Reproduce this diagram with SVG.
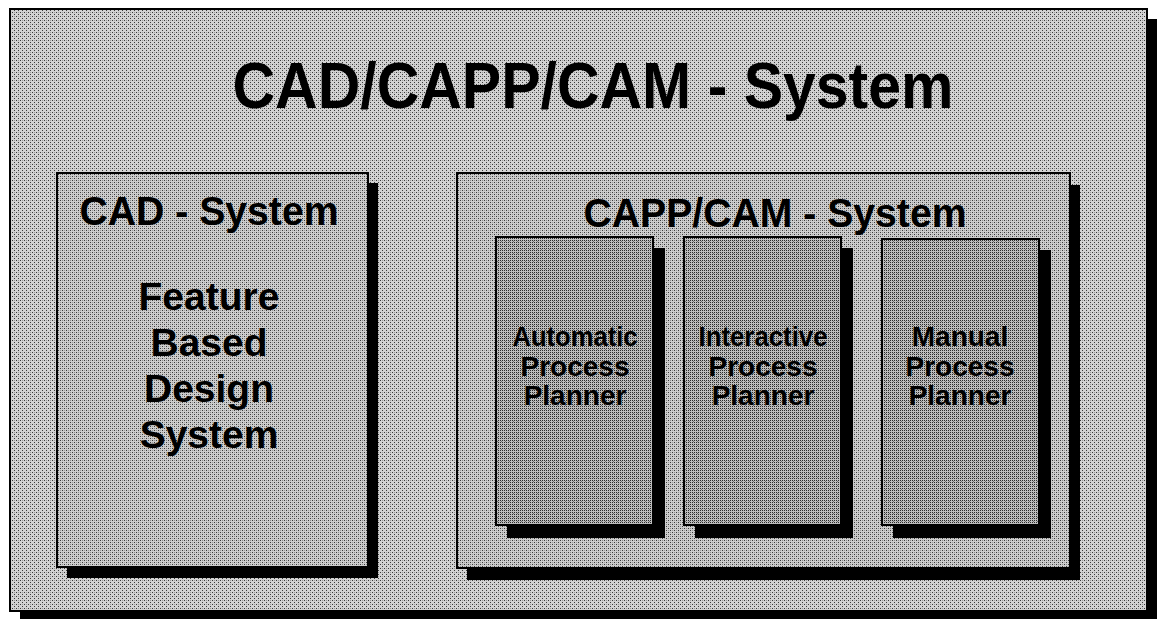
<svg xmlns="http://www.w3.org/2000/svg" width="1157" height="619" viewBox="0 0 1157 619">
  <defs>
    <pattern id="dotsLight" width="4" height="4" patternUnits="userSpaceOnUse">
      <rect width="4" height="4" fill="#d2d2d2"/>
      <rect x="0" y="0" width="1" height="1" fill="#3a3a3a"/>
      <rect x="2" y="2" width="1" height="1" fill="#3a3a3a"/>
      <rect x="2" y="0" width="1" height="1" fill="#9a9a9a"/>
    </pattern>
    <pattern id="dotsMid" width="4" height="4" patternUnits="userSpaceOnUse">
      <rect width="4" height="4" fill="#cdcdcd"/>
      <rect x="0" y="0" width="1" height="1" fill="#3a3a3a"/>
      <rect x="2" y="2" width="1" height="1" fill="#3a3a3a"/>
      <rect x="2" y="0" width="1" height="1" fill="#8a8a8a"/>
      <rect x="0" y="2" width="1" height="1" fill="#9a9a9a"/>
    </pattern>
    <pattern id="dotsDark" width="4" height="4" patternUnits="userSpaceOnUse">
      <rect width="4" height="4" fill="#bdbdbd"/>
      <rect x="0" y="0" width="1" height="1" fill="#2a2a2a"/>
      <rect x="2" y="2" width="1" height="1" fill="#2a2a2a"/>
      <rect x="2" y="0" width="1" height="1" fill="#2a2a2a"/>
      <rect x="0" y="2" width="1" height="1" fill="#2a2a2a"/>
      <rect x="1" y="1" width="1" height="1" fill="#707070"/>
    </pattern>
  </defs>
  <style>
    .shadow { fill: #000; }
    .frame { stroke: #000; stroke-width: 2; }
    .outer { fill: url(#dotsLight); }
    .box { fill: url(#dotsMid); }
    .planner { fill: url(#dotsDark); }
    .t { font-family: "Liberation Sans", Arial, sans-serif; fill: #000; text-anchor: middle; }
    .title { font-size: 64px; font-weight: bold; }
    .head { font-size: 40px; font-weight: bold; }
    .body { font-size: 39px; font-weight: bold; }
    .small { font-size: 28px; font-weight: bold; }
  </style>
  <rect width="1157" height="619" fill="#ffffff"/>

  <g id="system">
    <rect class="shadow" x="20" y="19" width="1137" height="600"/>
    <rect class="frame outer" x="10" y="9" width="1137" height="602"/>
    <text class="t title" x="593" y="108" textLength="721" lengthAdjust="spacingAndGlyphs">CAD/CAPP/CAM - System</text>
  </g>

  <g id="cad-system">
    <rect class="shadow" x="67" y="183" width="311" height="395"/>
    <rect class="frame box" x="57" y="173" width="311" height="394"/>
    <text class="t head" x="209" y="225" textLength="259" lengthAdjust="spacingAndGlyphs">CAD - System</text>
    <text class="t body" x="209" y="310">Feature</text>
    <text class="t body" x="209" y="356">Based</text>
    <text class="t body" x="209" y="402">Design</text>
    <text class="t body" x="209" y="448">System</text>
  </g>

  <g id="capp-cam-system">
    <rect class="shadow" x="467" y="185" width="613" height="395"/>
    <rect class="frame box" x="457" y="173" width="613" height="395"/>
    <text class="t head" x="775" y="227" textLength="383" lengthAdjust="spacingAndGlyphs">CAPP/CAM - System</text>
  </g>

  <g id="automatic-planner">
    <rect class="shadow" x="507" y="248" width="158" height="290"/>
    <rect class="frame planner" x="496" y="237" width="157" height="288"/>
    <text class="t small" x="575" y="346" textLength="125" lengthAdjust="spacingAndGlyphs">Automatic</text>
    <text class="t small" x="575" y="376">Process</text>
    <text class="t small" x="575" y="405">Planner</text>
  </g>

  <g id="interactive-planner">
    <rect class="shadow" x="695" y="248" width="158" height="290"/>
    <rect class="frame planner" x="684" y="237" width="157" height="288"/>
    <text class="t small" x="763" y="346" textLength="129" lengthAdjust="spacingAndGlyphs">Interactive</text>
    <text class="t small" x="763" y="376">Process</text>
    <text class="t small" x="763" y="405">Planner</text>
  </g>

  <g id="manual-planner">
    <rect class="shadow" x="893" y="250" width="158" height="288"/>
    <rect class="frame planner" x="882" y="239" width="157" height="286"/>
    <text class="t small" x="960" y="346">Manual</text>
    <text class="t small" x="960" y="376">Process</text>
    <text class="t small" x="960" y="405">Planner</text>
  </g>

  <g id="connectors"></g>
</svg>
